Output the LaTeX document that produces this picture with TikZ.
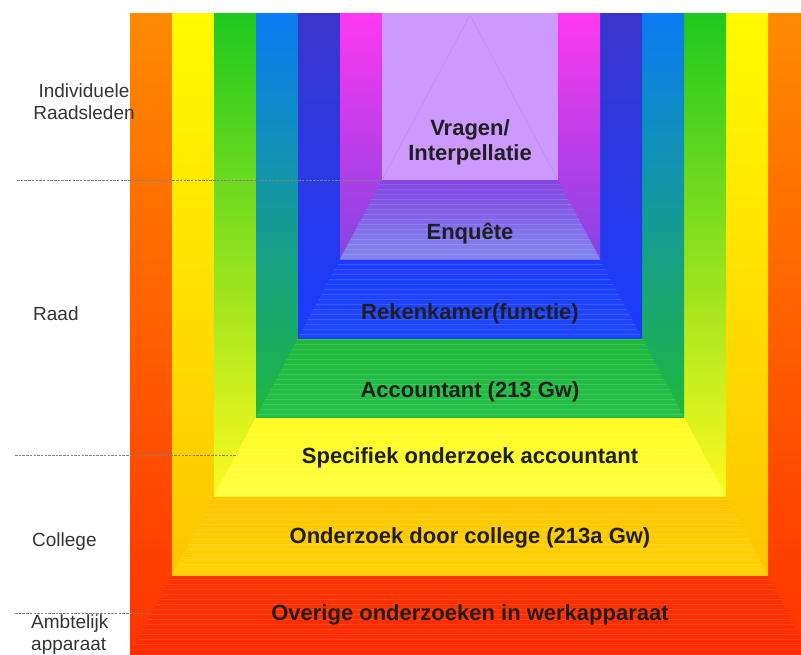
\documentclass[tikz,border=0pt]{standalone}
\usepackage{fontspec}
\setmainfont{Liberation Sans}

\definecolor{orangeTop}{HTML}{FF8A00}
\definecolor{redBand}{HTML}{FF3300}
\definecolor{redLow}{HTML}{FF2A00}
\definecolor{yellowTop}{HTML}{FFFA00}
\definecolor{goldBand}{HTML}{FFC400}
\definecolor{goldLow}{HTML}{FFD200}
\definecolor{greenTop}{HTML}{1EC81E}
\definecolor{yellowBand}{HTML}{FFFA1E}
\definecolor{yellowLow}{HTML}{FFFF40}
\definecolor{azureTop}{HTML}{0A7CF5}
\definecolor{greenBand}{HTML}{1EB83C}
\definecolor{greenLow}{HTML}{26C04A}
\definecolor{indigoTop}{HTML}{3A36CC}
\definecolor{blueBand}{HTML}{1A3CFF}
\definecolor{blueLow}{HTML}{1E46FF}
\definecolor{magentaTop}{HTML}{FF38F0}
\definecolor{purpleBand}{HTML}{8444E2}
\definecolor{purpleLow}{HTML}{8088EE}
\definecolor{lavender}{HTML}{CC99FF}

\tikzset{
  sidelabel/.style={text=black!80, font=\fontsize{19}{22}\selectfont, inner sep=0pt},
  levellabel/.style={text=black!88, font=\bfseries\fontsize{22}{25}\selectfont, align=center, inner sep=0pt},
  divider/.style={black!50, line width=.8pt, dash pattern=on 2.5pt off 1.2pt}
}

\begin{document}
\begin{tikzpicture}[x=1pt, y=1pt]
\useasboundingbox (0,0) rectangle (801,-654);
\clip (0,0) rectangle (801,-654);

% columns and bands, outside in
\foreach \i/\ctop/\cband/\clow in {0/orangeTop/redBand/redLow, 1/yellowTop/goldBand/goldLow,
  2/greenTop/yellowBand/yellowLow, 3/azureTop/greenBand/greenLow,
  4/indigoTop/blueBand/blueLow, 5/magentaTop/purpleBand/purpleLow} {
  \shade[top color=\ctop, bottom color=\cband] ({130+42*\i},-13) rectangle ({810-42*\i},{-654+79*\i});
  \shade[top color=\cband, bottom color=\clow] ({130+42*\i},{-654+79*\i}) -- ({810-42*\i},{-654+79*\i})
    -- ({768-42*\i},{-575+79*\i}) -- ({172+42*\i},{-575+79*\i}) -- cycle;
}

\coordinate (apex) at (470,-15);
\coordinate (vragenL) at (382,-180);
\coordinate (vragenR) at (558,-180);
\coordinate (specL) at (236,-455);
\coordinate (overigeL) at (150,-613);

\fill[lavender] (382,-13) rectangle (vragenR);
\draw[lavender!75!black, opacity=.3, line width=.6pt] (vragenL) -- (apex) -- (vragenR);

% stripes on the steps
\begin{scope}
\clip (vragenL) -- (vragenR) -- (810,-654) -- (130,-654) -- cycle;
\foreach \y in {184,189,...,654}
  \draw[white, opacity=.13, line width=.7pt] (130,-\y) -- (810,-\y);
\end{scope}

\node[levellabel] (vragen) at (470,-142) {Vragen/\\Interpellatie};
\node[levellabel] (enquete) at (470,-234) {Enquête};
\node[levellabel] (rekenkamer) at (470,-314) {Rekenkamer(functie)};
\node[levellabel] (accountant) at (470,-392) {Accountant (213 Gw)};
\node[levellabel] (specifiek) at (470,-458) {Specifiek onderzoek accountant};
\node[levellabel] (college) at (470,-538) {Onderzoek door college (213a Gw)};
\node[levellabel] (overige) at (470,-615) {Overige onderzoeken in werkapparaat};

\node[sidelabel, align=center] (raadsleden) at (84,-102) {Individuele\\Raadsleden};
\node[sidelabel, anchor=west] (raad) at (33,-314) {Raad};
\node[sidelabel, anchor=west] (collegeL) at (32,-542) {College};
\node[sidelabel, anchor=north west, align=left] (ambtelijk) at (31,-615) {Ambtelijk\\apparaat};

\coordinate (sepA) at (17,-180);
\coordinate (sepB) at (15,-455);
\coordinate (sepC) at (15,-613);
\draw[divider] (sepA) -- (vragenL);
\draw[divider] (sepB) -- (specL);
\draw[divider] (sepC) -- (overigeL);
\end{tikzpicture}
\end{document}
